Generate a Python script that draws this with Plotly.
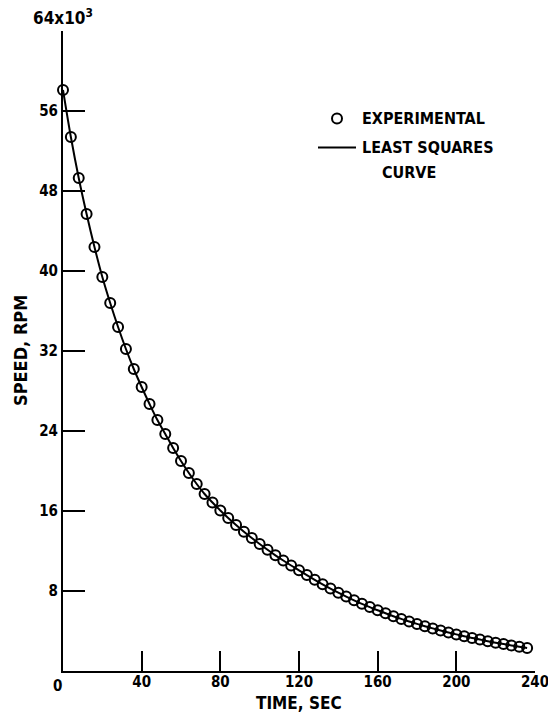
import plotly.graph_objects as go

# Spin-down test: rotor speed vs. time
time_s = [0, 4, 8, 12, 16, 20, 24, 28, 32, 36, 40, 44, 48, 52, 56, 60, 64, 68, 72, 76,
          80, 84, 88, 92, 96, 100, 104, 108, 112, 116, 120, 124, 128, 132, 136, 140, 144, 148, 152, 156,
          160, 164, 168, 172, 176, 180, 184, 188, 192, 196, 200, 204, 208, 212, 216, 220, 224, 228, 232, 236]
speed_krpm = [58.1, 53.4, 49.3, 45.7, 42.4, 39.4, 36.8, 34.4, 32.2, 30.2, 28.4, 26.7, 25.1, 23.7, 22.3, 21.0, 19.8, 18.7, 17.7, 16.85,
              16.05, 15.30, 14.60, 13.93, 13.30, 12.70, 12.12, 11.57, 11.05, 10.55, 10.07, 9.59, 9.12, 8.67, 8.24, 7.83, 7.44, 7.07, 6.72, 6.39,
              6.07, 5.77, 5.48, 5.21, 4.95, 4.71, 4.48, 4.26, 4.05, 3.85, 3.66, 3.48, 3.31, 3.14, 2.98, 2.83, 2.69, 2.56, 2.43, 2.31]

x_ticks = [40, 80, 120, 160, 200, 240]
x_tick_text = ["40", "80", "120", "160", "200", "240"]
y_ticks = [8, 16, 24, 32, 40, 48, 56]
y_tick_text = ["8", "16", "24", "32", "40", "48", "56"]
y_top = 64

FONT = "DejaVu Sans Condensed, DejaVu Sans, sans-serif"
W, H = 548, 726
ML, MR, MT, MB = 63, 13, 31, 55
PW, PH = W - ML - MR, H - MT - MB


def px(x):
    return (x - ML) / PW


def py(y):
    return (H - MB - y) / PH


fig = go.Figure()
fig.add_trace(go.Scatter(
    x=time_s, y=speed_krpm, mode="lines",
    line=dict(color="black", width=2, shape="spline"),
    showlegend=False, cliponaxis=False))
fig.add_trace(go.Scatter(
    x=time_s, y=speed_krpm, mode="markers",
    marker=dict(symbol="circle-open", size=10, color="black", line=dict(width=2, color="black")),
    showlegend=False, cliponaxis=False))

tickfont = dict(family=FONT, size=15, color="black", weight="bold")
textfont = dict(family=FONT, size=16, color="black", weight="bold")

fig.update_xaxes(
    range=[0, 240], tickvals=x_ticks, ticktext=x_tick_text,
    ticks="inside", ticklen=20, tickwidth=2, tickcolor="black",
    ticklabeloverflow="allow", ticklabelstandoff=-4, automargin=False,
    showline=True, linewidth=2, linecolor="black",
    showgrid=False, zeroline=False, tickfont=tickfont)
fig.update_yaxes(
    range=[0, y_top], tickvals=y_ticks, ticktext=y_tick_text,
    ticks="inside", ticklen=22, tickwidth=2, tickcolor="black",
    minor=dict(tickvals=[y_top], ticks="inside", ticklen=22, tickwidth=2, tickcolor="black"),
    automargin=False,
    showline=True, linewidth=2, linecolor="black",
    showgrid=False, zeroline=False, tickfont=tickfont)

annotations = [
    dict(x=0, y=y_top, xref="x", yref="y", text="64x10<sup>3</sup>", showarrow=False,
         xanchor="center", yanchor="bottom", yshift=1,
         font=dict(family=FONT, size=17, color="black", weight="bold")),
    dict(x=0, y=0, xref="x", yref="paper", text="0", showarrow=False,
         xanchor="center", yanchor="top", xshift=-6, yshift=-4, font=tickfont),
    dict(x=0.5, y=py(703), xref="paper", yref="paper", text="TIME, SEC", showarrow=False,
         xanchor="center", yanchor="middle", font=dict(family=FONT, size=17, color="black", weight="bold")),
    dict(x=px(20), y=0.5, xref="paper", yref="paper", text="SPEED, RPM", showarrow=False,
         textangle=-90, xanchor="center", yanchor="middle",
         font=dict(family=FONT, size=18, color="black", weight="bold")),
    dict(x=px(360), y=py(119), xref="paper", yref="paper", text="EXPERIMENTAL", showarrow=False,
         xanchor="left", yanchor="middle", font=textfont),
    dict(x=px(360), y=py(147), xref="paper", yref="paper", text="LEAST SQUARES", showarrow=False,
         xanchor="left", yanchor="middle", font=textfont),
    dict(x=px(380), y=py(172), xref="paper", yref="paper", text="CURVE", showarrow=False,
         xanchor="left", yanchor="middle", font=textfont),
]

shapes = [
    dict(type="circle", xref="paper", yref="paper",
         x0=px(332), x1=px(342), y0=py(113.5), y1=py(123.5),
         line=dict(color="black", width=2)),
    dict(type="line", xref="paper", yref="paper",
         x0=px(318), x1=px(356), y0=py(147.5), y1=py(147.5),
         line=dict(color="black", width=2)),
]

fig.update_layout(
    width=W, height=H,
    margin=dict(l=ML, r=MR, t=MT, b=MB, autoexpand=False),
    paper_bgcolor="white", plot_bgcolor="white",
    font=dict(family=FONT, color="black"),
    annotations=annotations, shapes=shapes,
    showlegend=False,
)

fig.write_html("out.html")
